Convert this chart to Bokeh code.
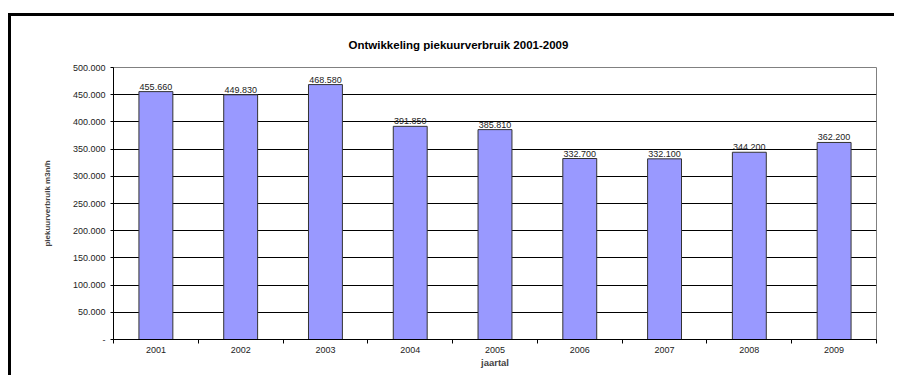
from bokeh.plotting import figure
from bokeh.models import ColumnDataSource, FixedTicker, Range1d, Title, LabelSet
from bokeh.core.properties import value
from bokeh.embed import file_html
from bokeh.resources import INLINE

title_text = "Ontwikkeling piekuurverbruik 2001-2009"
categories = ["2001", "2002", "2003", "2004", "2005", "2006", "2007", "2008", "2009"]
values = [455660, 449830, 468580, 391850, 385810, 332700, 332100, 344200, 362200]
y_ticks = [0, 50000, 100000, 150000, 200000, 250000, 300000, 350000, 400000, 450000, 500000]
y_tick_labels = ["-", "50.000", "100.000", "150.000", "200.000", "250.000",
                 "300.000", "350.000", "400.000", "450.000", "500.000"]

def fmt(v):
    return f"{v:,}".replace(",", ".")

xs = list(range(1, len(categories) + 1))
src = ColumnDataSource(dict(x=xs, top=values, label=[fmt(v) for v in values]))

FONT = "Liberation Sans"

p = figure(width=886, height=362, output_backend="svg", toolbar_location=None,
           x_range=Range1d(0.5, len(categories) + 0.5), y_range=Range1d(y_ticks[0], y_ticks[-1]),
           min_border_left=102, min_border_top=51, min_border_right=21, min_border_bottom=39)
p.styles = {"margin-left": "11px", "margin-top": "16px",
            "box-shadow": "-3px -3px 0px 0px #000000"}

p.title = Title(text=title_text, align="left", offset=235, standoff=34,
                text_font=FONT, text_font_size="11.5px",
                text_font_style="bold", text_color="#000000")

p.vbar(x="x", top="top", width=0.4, source=src, fill_color="#9999FF",
       line_color="#333333", line_width=1)

labels = LabelSet(x="x", y="top", text="label", source=src, text_align="center",
                  text_baseline="bottom", y_offset=2, text_font=value(FONT),
                  text_font_size=value("9px"), text_color=value("#222222"))
p.add_layout(labels)

# axes
p.xaxis.ticker = FixedTicker(ticks=xs, minor_ticks=[x + 0.5 for x in [0] + xs])
p.xaxis.major_label_overrides = {x: c for x, c in zip(xs, categories)}
p.xaxis.major_tick_out = 0
p.xaxis.major_tick_in = 0
p.xaxis.minor_tick_out = 4
p.xaxis.minor_tick_in = 0
p.xaxis.minor_tick_line_color = "#000000"
p.xaxis.axis_line_color = "#000000"
p.xaxis.axis_label = "jaartal"
p.xaxis.axis_label_text_font = FONT
p.xaxis.axis_label_text_font_size = "9.5px"
p.xaxis.axis_label_text_font_style = "bold"
p.xaxis.axis_label_standoff = 1
p.xaxis.major_label_standoff = 3
p.xaxis.major_label_text_font = FONT
p.xaxis.major_label_text_font_size = "9px"
p.xaxis.major_label_text_color = "#222222"

p.yaxis.ticker = FixedTicker(ticks=y_ticks, minor_ticks=[])
p.yaxis.major_label_overrides = {t: l for t, l in zip(y_ticks, y_tick_labels)}
p.yaxis.major_tick_out = 3
p.yaxis.major_tick_in = 0
p.yaxis.major_tick_line_color = "#000000"
p.yaxis.axis_line_color = "#000000"
p.yaxis.axis_label = "piekuurverbruik m3n/h"
p.yaxis.axis_label_text_font = FONT
p.yaxis.axis_label_text_font_size = "8px"
p.yaxis.axis_label_text_font_style = "bold"
p.yaxis.axis_label_standoff = 18
p.yaxis.major_label_standoff = 5
p.yaxis.major_label_text_font = FONT
p.yaxis.major_label_text_font_size = "9px"
p.yaxis.major_label_text_color = "#222222"

p.xgrid.grid_line_color = None
p.ygrid.ticker = FixedTicker(ticks=y_ticks[1:-1], minor_ticks=[])
p.ygrid.grid_line_color = "#000000"
p.ygrid.grid_line_width = 1

p.outline_line_color = "#808080"
p.outline_line_width = 1
p.background_fill_color = "#FFFFFF"
p.border_fill_color = "#FFFFFF"

open("out.html", "w").write(file_html(p, INLINE))
